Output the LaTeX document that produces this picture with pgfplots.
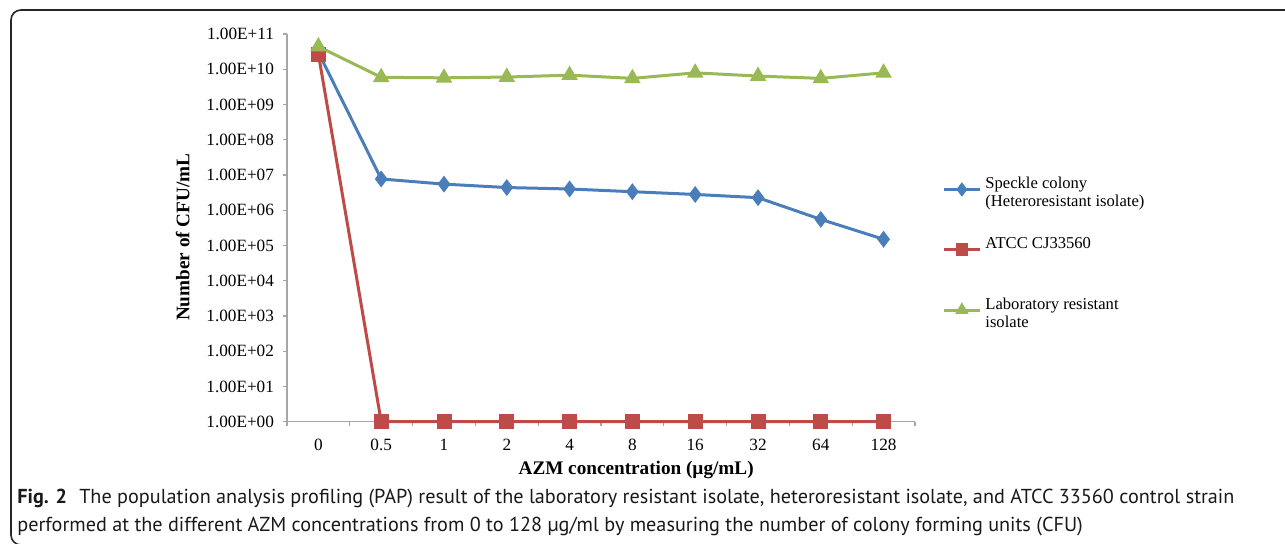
\documentclass[border=0pt]{standalone}
\usepackage{pgfplots}
\pgfplotsset{compat=1.18}
\usepackage{fontspec}
\setmainfont{Liberation Serif}
\newfontfamily\capfont{PT Sans}
\definecolor{cblue}{HTML}{4A7EBB}
\definecolor{cred}{HTML}{BE4B48}
\definecolor{cgreen}{HTML}{98B954}
\definecolor{axgray}{HTML}{A6A6A6}
\begin{document}
\begin{tikzpicture}
\useasboundingbox (0,0) rectangle (642.5pt,272pt);
\draw[line width=0.8pt, color=black!85, rounded corners=5pt] (660pt,267pt) -- (5.5pt,267pt) -- (5.5pt,-0.5pt) -- (40pt,-0.5pt);
\begin{axis}[
  at={(143.5pt,61.15pt)}, anchor=south west,
  scale only axis, width=314pt, height=193.85pt,
  ymode=log, ymin=1, ymax=1e11, xmin=-0.5, xmax=9.5,
  clip=false,
  axis x line*=bottom, axis y line*=left,
  axis line style={axgray, line width=0.6pt},
  xtick={0,...,9}, xticklabels={0,0.5,1,2,4,8,16,32,64,128},
  minor xtick={-0.5,0.5,...,9.5},
  ytick={1,10,100,1000,10000,1e5,1e6,1e7,1e8,1e9,1e10,1e11},
  yticklabels={1.00E+00,1.00E+01,1.00E+02,1.00E+03,1.00E+04,1.00E+05,1.00E+06,1.00E+07,1.00E+08,1.00E+09,1.00E+10,1.00E+11},
  yminorticks=false,
  tick align=outside,
  major tick length=2pt, minor tick length=2.2pt,
  major x tick style={draw=none},
  minor x tick style={axgray, line width=0.6pt},
  y tick style={axgray, line width=0.6pt},
  tick label style={font=\fontsize{8.6}{10}\selectfont},
  xticklabel style={yshift=-3pt},
  yticklabel style={xshift=-1pt},
  xlabel={AZM concentration (µg/mL)},
  ylabel={Number of CFU/mL},
  label style={font=\fontsize{9.6}{12}\selectfont\bfseries},
  xlabel style={at={(axis description cs:0.556,-0.124)}, anchor=center},
  ylabel style={at={(axis description cs:-0.166,0.476)}, anchor=center, rotate=0},
  legend cell align=left,
  legend style={at={(1.043,0.642)}, anchor=north west, draw=none, fill=none,
    font=\fontsize{8.3}{9}\selectfont, cells={align=left}, row sep=10pt, inner sep=0pt},
  legend image code/.code={\draw[mark repeat=2, mark phase=2, mark size=2.4pt] plot coordinates {(0pt,2pt) (9pt,2pt) (18pt,2pt)};},
]
\addplot[cblue, line width=1.5pt, mark=diamond*, mark size=3pt] coordinates {
(0,3e10) (1,7.7e6) (2,5.5e6) (3,4.4e6) (4,4.0e6) (5,3.35e6) (6,2.8e6) (7,2.27e6) (8,5.5e5) (9,1.5e5)};
\addlegendentry{Speckle colony\\(Heteroresistant isolate)}
\addplot[cred, line width=1.5pt, mark=square*, mark size=3pt] coordinates {
(0,2.7e10) (1,1) (2,1) (3,1) (4,1) (5,1) (6,1) (7,1) (8,1) (9,1)};
\addlegendentry{ATCC CJ33560\\\mbox{}}
\addplot[cgreen, line width=1.5pt, mark=triangle*, mark size=3.3pt] coordinates {
(0,4.4e10) (1,5.9e9) (2,5.7e9) (3,6.0e9) (4,6.8e9) (5,5.5e9) (6,7.9e9) (7,6.4e9) (8,5.5e9) (9,7.9e9)};
\addlegendentry{Laboratory resistant\\isolate}
\end{axis}
\node[anchor=base west, inner sep=0pt, font=\capfont\fontsize{10.1}{11}\selectfont, text=black!90] at (8.5pt,20pt) {\textbf{Fig. 2}\hspace{0.6em}The population analysis profiling (PAP) result of the laboratory resistant isolate, heteroresistant isolate, and ATCC 33560 control strain};
\node[anchor=base west, inner sep=0pt, font=\capfont\fontsize{10.1}{11}\selectfont, text=black!90] at (8.5pt,6.3pt) {performed at the different AZM concentrations from 0 to 128 µg/ml by measuring the number of colony forming units (CFU)};
\end{tikzpicture}
\end{document}
